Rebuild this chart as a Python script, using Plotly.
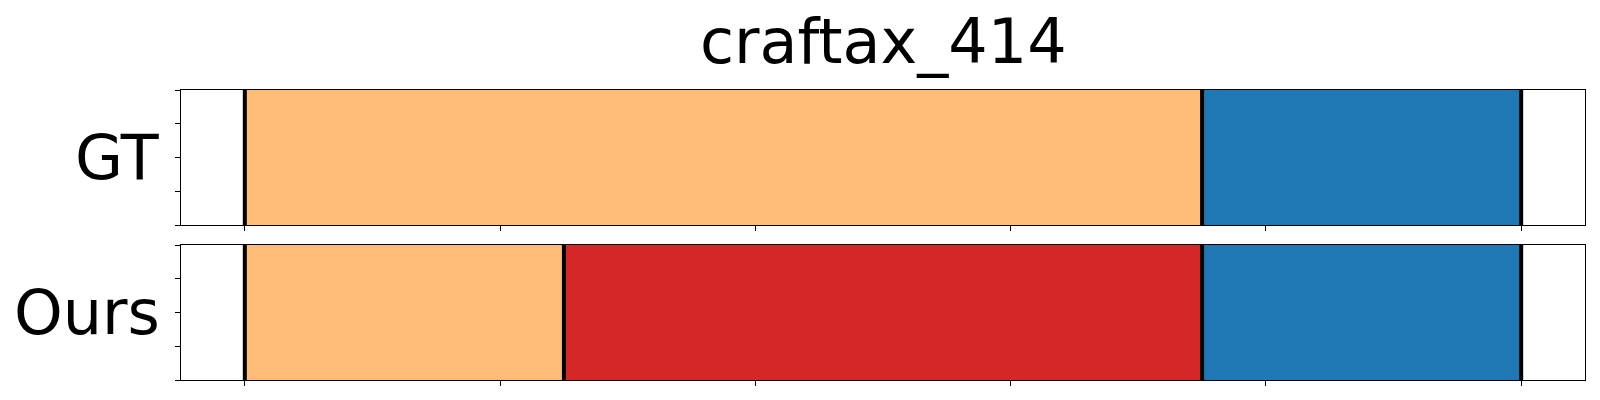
import plotly.graph_objects as go
from plotly.subplots import make_subplots

# ---- data ----
title_text = "craftax_414"
row_labels = ["GT", "Ours"]
sequence_length = 100

gt_starts = [0, 75]
gt_ends = [75, 100]
gt_classes = [3, 0]

ours_starts = [0, 25, 75]
ours_ends = [25, 75, 100]
ours_classes = [3, 6, 0]

x_tick_values = [0, 20, 40, 60, 80, 100]
y_tick_values = [-0.5, -0.25, 0, 0.25, 0.5]

# ---- style ----
tab20 = {0: "#1f77b4", 3: "#ffbb78", 6: "#d62728"}
FONT = "DejaVu Sans"

fig = make_subplots(rows=2, cols=1, shared_xaxes=False,
                    vertical_spacing=20 / 290)

rows = [(gt_starts, gt_ends, gt_classes), (ours_starts, ours_ends, ours_classes)]
for r, (starts, ends, classes) in enumerate(rows, start=1):
    for s, e, c in zip(starts, ends, classes):
        fig.add_trace(go.Bar(
            x=[e - s], y=[0], base=[s], orientation="h", width=1.0,
            marker=dict(color=tab20[c], line=dict(width=0)),
            showlegend=False, hoverinfo="skip"), row=r, col=1)
    bounds = sorted(set(starts) | set(ends))
    xs, ys = [], []
    for b in bounds:
        xs += [b, b, None]
        ys += [-0.5, 0.5, None]
    fig.add_trace(go.Scatter(x=xs, y=ys, mode="lines",
                             line=dict(color="black", width=4),
                             showlegend=False, hoverinfo="skip"), row=r, col=1)

for r in (1, 2):
    fig.update_xaxes(range=[-0.05 * sequence_length, 1.05 * sequence_length],
                     tickvals=x_tick_values, showticklabels=False,
                     ticks="outside", ticklen=5, tickwidth=1, tickcolor="black",
                     showline=True, linecolor="black", linewidth=1.2, mirror=True,
                     showgrid=False, zeroline=False, row=r, col=1)
    fig.update_yaxes(range=[-0.5, 0.5], tickvals=y_tick_values, showticklabels=False,
                     ticks="outside", ticklen=5, tickwidth=1, tickcolor="black",
                     showline=True, linecolor="black", linewidth=1.2, mirror=True,
                     showgrid=False, zeroline=False, row=r, col=1)

for i, lab in enumerate(row_labels):
    yref = "y domain" if i == 0 else "y2 domain"
    fig.add_annotation(text=lab, xref="paper", x=0, xanchor="right", xshift=-19,
                       yref=yref, y=0.5, yanchor="middle", showarrow=False,
                       font=dict(family=FONT, size=62, color="black"))

fig.add_annotation(text=title_text, xref="paper", x=0.5, xanchor="center",
                   yref="paper", y=1 + 49 / 290, yanchor="middle", showarrow=False,
                   font=dict(family=FONT, size=62, color="black"))

fig.update_layout(width=1600, height=400, barmode="overlay",
                  margin=dict(l=181, r=15, t=90, b=20),
                  plot_bgcolor="white", paper_bgcolor="white",
                  font=dict(family=FONT))

fig.write_html("out.html", config={"displayModeBar": False},
               post_script="document.body.style.margin='0';document.body.style.overflow='hidden';")
